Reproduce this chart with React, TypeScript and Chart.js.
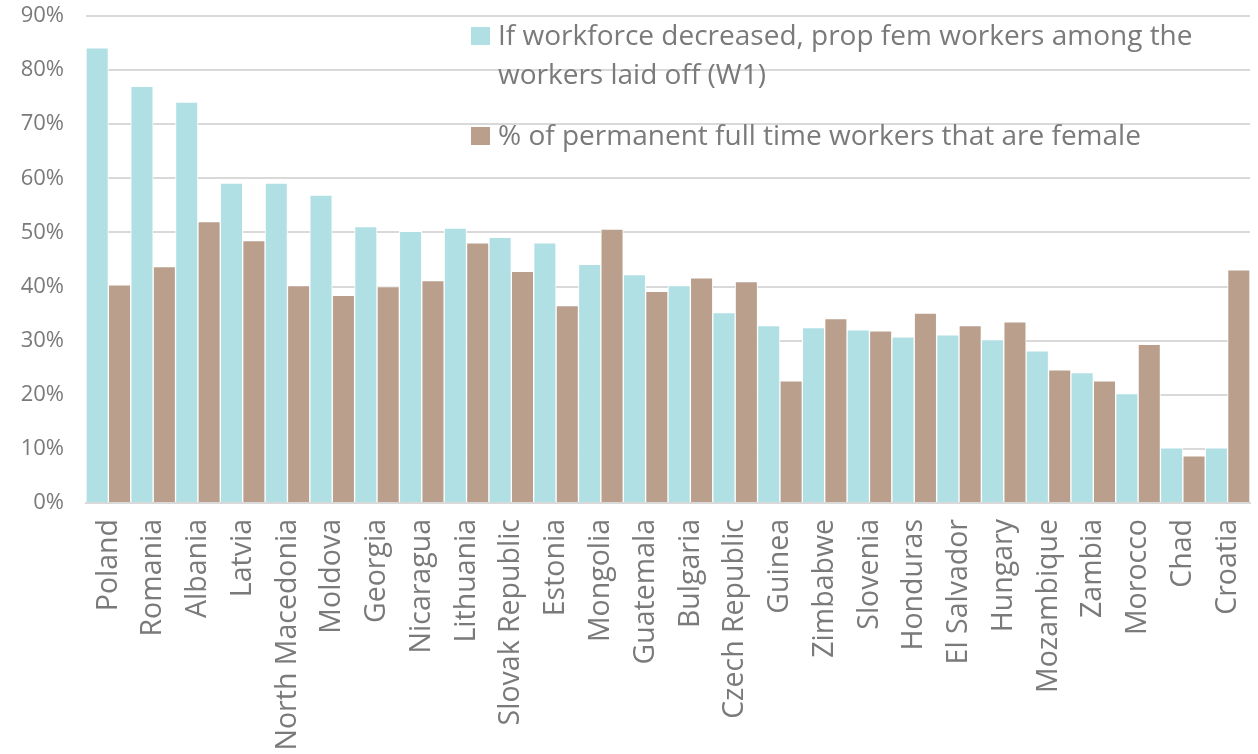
import React, { useEffect, useRef } from "react";
import { Chart, registerables } from "chart.js";

Chart.register(...registerables);

const countries = [
  "Poland", "Romania", "Albania", "Latvia", "North Macedonia", "Moldova", "Georgia",
  "Nicaragua", "Lithuania", "Slovak Republic", "Estonia", "Mongolia", "Guatemala",
  "Bulgaria", "Czech Republic", "Guinea", "Zimbabwe", "Slovenia", "Honduras",
  "El Salvador", "Hungary", "Mozambique", "Zambia", "Morocco", "Chad", "Croatia",
];

// Share of female workers among those laid off when the workforce decreased (W1), %
const laidOffFemale = [
  84.1, 77.0, 74.1, 59.1, 59.1, 56.9, 51.1, 50.2, 50.8, 49.1, 48.1, 44.1, 42.2,
  40.2, 35.2, 32.8, 32.4, 32.0, 30.7, 31.1, 30.2, 28.1, 24.1, 20.2, 10.2, 10.2,
];

// Share of permanent full-time workers that are female, %
const permanentFemale = [
  40.3, 43.7, 52.0, 48.5, 40.2, 38.4, 40.0, 41.1, 48.1, 42.8, 36.5, 50.6, 39.1,
  41.6, 40.9, 22.6, 34.1, 31.8, 35.1, 32.8, 33.5, 24.6, 22.6, 29.3, 8.7, 43.1,
];

const yTicks = [0, 10, 20, 30, 40, 50, 60, 70, 80, 90];

const seriesLabels = [
  ["If workforce decreased, prop fem workers among the", "workers laid off (W1)"],
  ["% of permanent full time workers that are female"],
];

const BLUE = "#b0e0e4";
const BROWN = "#b99f8c";
const GRID = "#d9d9d9";
const TEXT = "#7a7a7a";
const FONT = "'Open Sans', 'DejaVu Sans', sans-serif";

export default function App() {
  const canvasRef = useRef<HTMLCanvasElement | null>(null);

  useEffect(() => {
    if (!canvasRef.current) return;
    const chart = new Chart(canvasRef.current, {
      type: "bar",
      data: {
        labels: countries,
        datasets: [
          {
            label: seriesLabels[0].join(" "),
            data: laidOffFemale,
            backgroundColor: BLUE,
            borderColor: "#ffffff",
            borderWidth: 1,
            categoryPercentage: 1,
            barPercentage: 1,
          },
          {
            label: seriesLabels[1].join(" "),
            data: permanentFemale,
            backgroundColor: BROWN,
            borderColor: "#ffffff",
            borderWidth: 1,
            categoryPercentage: 1,
            barPercentage: 1,
          },
        ],
      },
      options: {
        animation: false,
        responsive: false,
        maintainAspectRatio: false,
        layout: { padding: { top: 16, right: 8, left: 0, bottom: 0 } },
        plugins: {
          legend: { display: false },
          tooltip: { enabled: false },
        },
        scales: {
          x: {
            grid: { display: false, drawTicks: false },
            border: { display: true, color: GRID, width: 2 },
            ticks: {
              minRotation: 90,
              maxRotation: 90,
              autoSkip: false,
              padding: 16,
              color: TEXT,
              font: { family: FONT, size: 28.5 },
            },
            afterFit: (scale: any) => {
              scale.height = 251;
              scale.paddingTop = 0;
              scale.paddingLeft = 0;
              scale.paddingRight = 0;
            },
          },
          y: {
            min: 0,
            max: 90,
            afterBuildTicks: (scale: any) => {
              scale.ticks = yTicks.map((v) => ({ value: v }));
            },
            grid: { color: GRID, lineWidth: 2, drawTicks: false },
            border: { display: false },
            ticks: {
              padding: 22,
              color: TEXT,
              font: { family: FONT, size: 22 },
              callback: (v: any) => `${v}%`,
            },
            afterFit: (scale: any) => {
              scale.width = 86;
              scale.paddingTop = 0;
              scale.paddingBottom = 0;
            },
          },
        },
      },
    });
    return () => chart.destroy();
  }, []);

  const legendText: React.CSSProperties = {
    position: "absolute",
    left: 498,
    fontFamily: FONT,
    fontSize: 28,
    color: TEXT,
    whiteSpace: "nowrap",
    lineHeight: "39px",
  };

  return (
    <div style={{ position: "absolute", left: 0, top: 0, width: 1258, height: 754, background: "#fff" }}>
      <canvas ref={canvasRef} width={1258} height={754} style={{ display: "block" }} />
      <div style={{ position: "absolute", left: 471, top: 27, width: 19, height: 18, background: BLUE }} />
      <div style={{ ...legendText, top: 15 }}>
        {seriesLabels[0].map((line, i) => (
          <div key={i}>{line}</div>
        ))}
      </div>
      <div style={{ position: "absolute", left: 471, top: 127, width: 19, height: 18, background: BROWN }} />
      <div style={{ ...legendText, top: 115 }}>
        {seriesLabels[1].map((line, i) => (
          <div key={i}>{line}</div>
        ))}
      </div>
    </div>
  );
}
